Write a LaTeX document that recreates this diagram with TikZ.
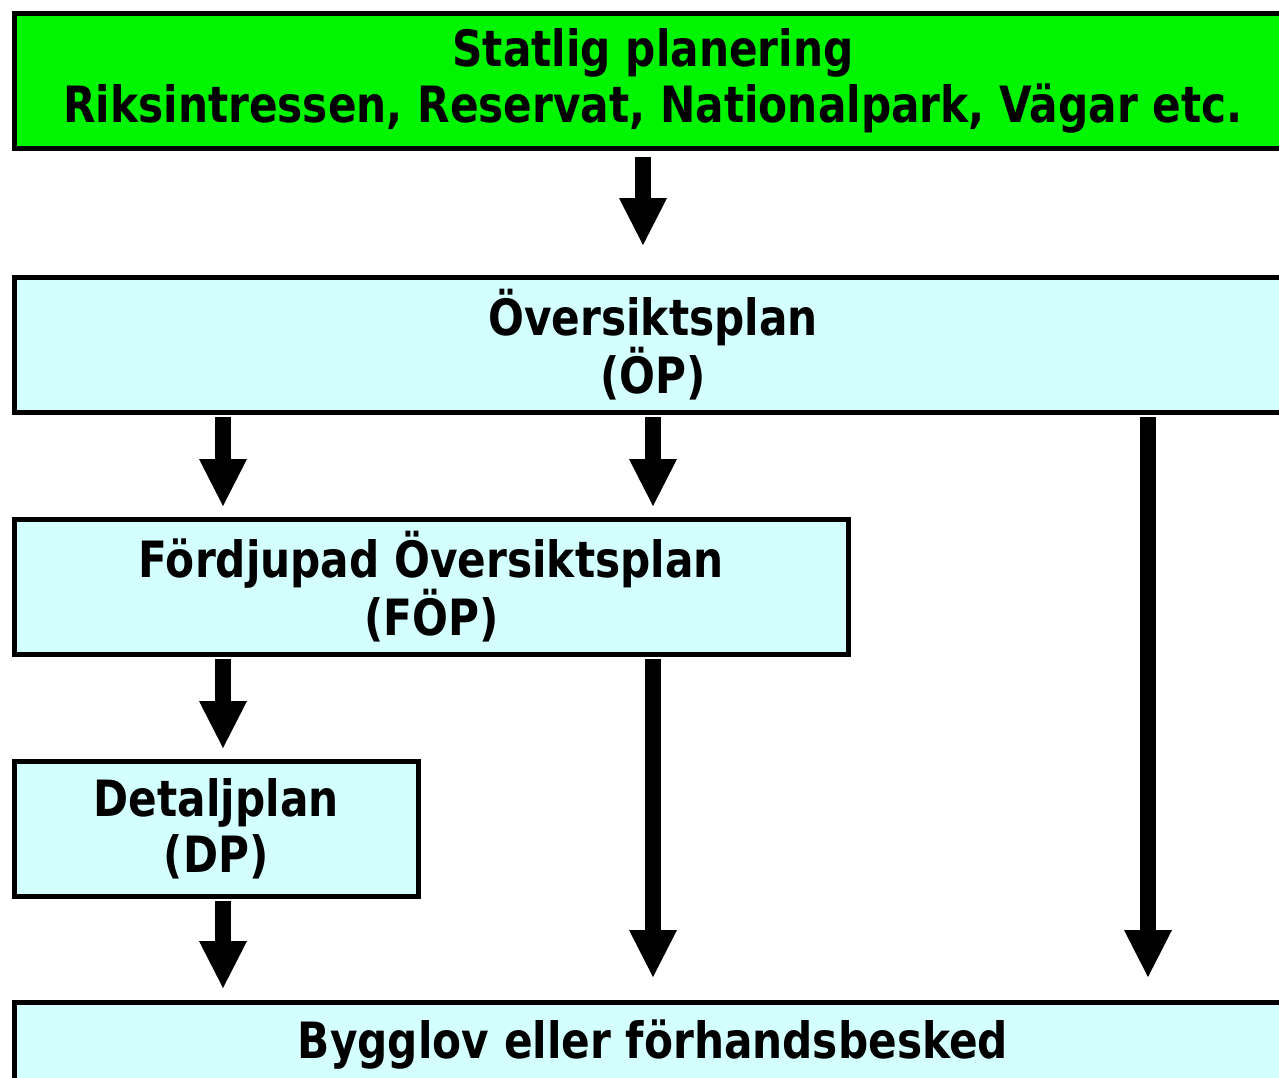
\documentclass[tikz,border=0pt]{standalone}
\usepackage{fontspec}
\usetikzlibrary{arrows.meta,calc}
\newfontfamily\boxfont[FakeStretch=0.845]{DejaVu Sans Bold}
\definecolor{boxgreen}{RGB}{0,245,0}
\definecolor{boxcyan}{RGB}{212,255,255}
\begin{document}
\begin{tikzpicture}[x=1pt,y=-1pt,
  planbox/.style={draw=black,line width=5pt,inner sep=0pt,outer sep=0pt,align=center,
    font=\boxfont\fontsize{50}{56}\selectfont},
  arr/.style={line width=16pt,-{Triangle[width=48pt,length=47pt,line width=0pt]}}]
\useasboundingbox (0,0) rectangle (1279,1077);
\clip (0,0) rectangle (1279,1077);
\node[planbox,fill=boxgreen,minimum width=1277pt,minimum height=135.5pt] (green) at (653,81)
  {Statlig planering\\Riksintressen, Reservat, Nationalpark, Vägar etc.};
\node[planbox,fill=boxcyan,minimum width=1277pt,minimum height=135pt] (op) at (653,344.5)
  {Översiktsplan\\(ÖP)};
\node[planbox,fill=boxcyan,minimum width=833.5pt,minimum height=135pt] (fop) at (431.25,586.5)
  {Fördjupad Översiktsplan\\(FÖP)};
\node[planbox,fill=boxcyan,minimum width=403.5pt,minimum height=135pt] (dp) at (216.25,828.5)
  {Detaljplan\\(DP)};
\node[planbox,fill=boxcyan,minimum width=1277pt,minimum height=85pt] (bygg) at (653,1044.5)
  {Bygglov eller förhandsbesked};
\coordinate (xa) at (643,0);
\coordinate (xl) at (223,0);
\coordinate (xm) at (653,0);
\coordinate (xr) at (1148,0);
\draw[arr] ($(green.south -| xa)+(0,8)$) -- ($(op.north -| xa)+(0,-32)$);
\draw[arr] ($(op.south -| xl)+(0,5)$) -- ($(fop.north -| xl)+(0,-13)$);
\draw[arr] ($(op.south -| xm)+(0,5)$) -- ($(fop.north -| xm)+(0,-13)$);
\draw[arr] ($(op.south -| xr)+(0,5)$) -- ($(bygg.north -| xr)+(0,-25)$);
\draw[arr] ($(fop.south -| xm)+(0,5)$) -- ($(bygg.north -| xm)+(0,-25)$);
\draw[arr] ($(fop.south -| xl)+(0,5)$) -- ($(dp.north -| xl)+(0,-13)$);
\draw[arr] ($(dp.south -| xl)+(0,5)$) -- ($(bygg.north -| xl)+(0,-14)$);
\end{tikzpicture}
\end{document}
